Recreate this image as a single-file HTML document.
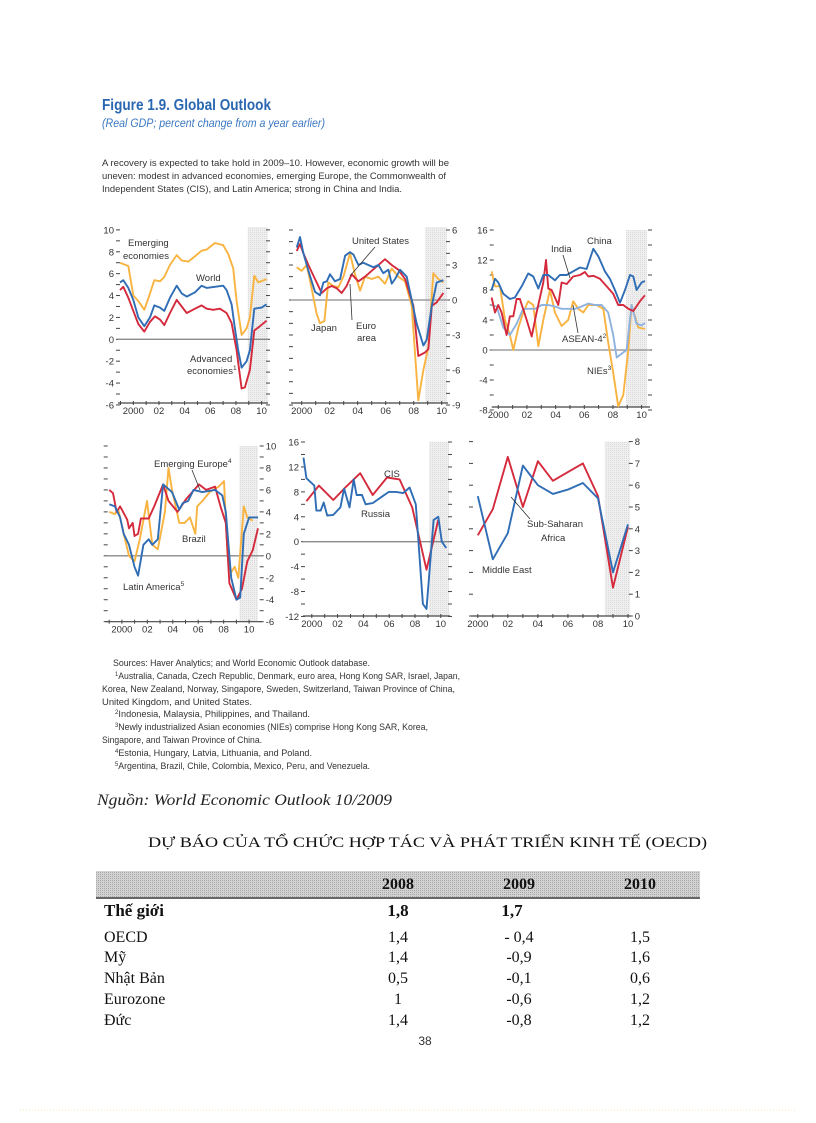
<!DOCTYPE html>
<html><head><meta charset="utf-8"><style>
html,body{margin:0;padding:0;background:#fff}
svg{display:block}
.t{font-family:"Liberation Sans",sans-serif}
.s{font-family:"Liberation Serif","Noto Serif CJK SC",serif}
</style></head><body>
<svg id="page" width="816" height="1123" viewBox="0 0 816 1123" xmlns="http://www.w3.org/2000/svg">
<defs>
<pattern id="dots" width="2" height="2" patternUnits="userSpaceOnUse"><rect width="2" height="2" fill="#efefef"/><rect width="1" height="1" fill="#dadada"/></pattern>
<pattern id="dots2" width="2" height="2" patternUnits="userSpaceOnUse"><rect width="2" height="2" fill="#d2d2d2"/><rect width="1" height="1" fill="#a8a8a8"/></pattern>
</defs>
<text class="t" x="102" y="110" font-size="16" font-weight="bold" fill="#2a67b1" textLength="169" lengthAdjust="spacingAndGlyphs">Figure 1.9.  Global Outlook</text>
<text class="t" x="102" y="127" font-size="11.5" font-style="italic" fill="#3b78c0" textLength="223" lengthAdjust="spacingAndGlyphs">(Real GDP; percent change from a year earlier)</text>
<g class="t" font-size="9.5" fill="#333">
<text x="102" y="166" textLength="347" lengthAdjust="spacingAndGlyphs">A recovery is expected to take hold in 2009–10. However, economic growth will be</text>
<text x="102" y="179" textLength="344" lengthAdjust="spacingAndGlyphs">uneven: modest in advanced economies, emerging Europe, the Commonwealth of</text>
<text x="102" y="192" textLength="300" lengthAdjust="spacingAndGlyphs">Independent States (CIS), and Latin America; strong in China and India.</text>
</g>
<g id="charts"></g>
<g class="t" font-size="9" fill="#333">
<text x="113" y="666" textLength="257" lengthAdjust="spacingAndGlyphs">Sources: Haver Analytics; and World Economic Outlook database.</text>
<text x="115" y="679" textLength="345" lengthAdjust="spacingAndGlyphs"><tspan font-size="6" dy="-3">1</tspan><tspan dy="3">Australia, Canada, Czech Republic, Denmark, euro area, Hong Kong SAR, Israel, Japan,</tspan></text>
<text x="102" y="692" textLength="353" lengthAdjust="spacingAndGlyphs">Korea, New Zealand, Norway, Singapore, Sweden, Switzerland, Taiwan Province of China,</text>
<text x="102" y="705" textLength="150" lengthAdjust="spacingAndGlyphs">United Kingdom, and United States.</text>
<text x="115" y="717" textLength="195" lengthAdjust="spacingAndGlyphs"><tspan font-size="6" dy="-3">2</tspan><tspan dy="3">Indonesia, Malaysia, Philippines, and Thailand.</tspan></text>
<text x="115" y="730" textLength="313" lengthAdjust="spacingAndGlyphs"><tspan font-size="6" dy="-3">3</tspan><tspan dy="3">Newly industrialized Asian economies (NIEs) comprise Hong Kong SAR, Korea,</tspan></text>
<text x="102" y="743" textLength="160" lengthAdjust="spacingAndGlyphs">Singapore, and Taiwan Province of China.</text>
<text x="115" y="756" textLength="197" lengthAdjust="spacingAndGlyphs"><tspan font-size="6" dy="-3">4</tspan><tspan dy="3">Estonia, Hungary, Latvia, Lithuania, and Poland.</tspan></text>
<text x="115" y="769" textLength="255" lengthAdjust="spacingAndGlyphs"><tspan font-size="6" dy="-3">5</tspan><tspan dy="3">Argentina, Brazil, Chile, Colombia, Mexico, Peru, and Venezuela.</tspan></text>
</g>
<text class="s" x="97" y="805" font-size="16" font-style="italic" fill="#222" textLength="295" lengthAdjust="spacingAndGlyphs">Nguồn: World Economic Outlook 10/2009</text>
<text class="s" x="148" y="847" font-size="15" fill="#111" textLength="559" lengthAdjust="spacingAndGlyphs">DỰ BÁO CỦA TỔ CHỨC HỢP TÁC VÀ PHÁT TRIỂN KINH TẾ (OECD)</text>
<g class="s" fill="#111">
<rect x="96" y="871" width="604" height="26" fill="url(#dots2)"/>
<line x1="96" y1="898" x2="700" y2="898" stroke="#333" stroke-width="1.5"/>
<g font-size="16" font-weight="bold" text-anchor="middle">
<text x="398" y="889">2008</text><text x="519" y="889">2009</text><text x="640" y="889">2010</text></g>
<g font-size="17" font-weight="bold">
<text x="104" y="916">Thế giới</text><text x="398" y="916" text-anchor="middle">1,8</text><text x="512" y="916" text-anchor="middle">1,7</text></g>
<g font-size="16">
<text x="104" y="942">OECD</text><text x="398" y="942" text-anchor="middle">1,4</text><text x="519" y="942" text-anchor="middle">- 0,4</text><text x="640" y="942" text-anchor="middle">1,5</text>
<text x="104" y="962">Mỹ</text><text x="398" y="962" text-anchor="middle">1,4</text><text x="519" y="962" text-anchor="middle">-0,9</text><text x="640" y="962" text-anchor="middle">1,6</text>
<text x="104" y="983">Nhật Bản</text><text x="398" y="983" text-anchor="middle">0,5</text><text x="519" y="983" text-anchor="middle">-0,1</text><text x="640" y="983" text-anchor="middle">0,6</text>
<text x="104" y="1004">Eurozone</text><text x="398" y="1004" text-anchor="middle">1</text><text x="519" y="1004" text-anchor="middle">-0,6</text><text x="640" y="1004" text-anchor="middle">1,2</text>
<text x="104" y="1025">Đức</text><text x="398" y="1025" text-anchor="middle">1,4</text><text x="519" y="1025" text-anchor="middle">-0,8</text><text x="640" y="1025" text-anchor="middle">1,2</text>
</g></g>
<text class="t" x="425" y="1045" font-size="12" text-anchor="middle" fill="#333">38</text>
<line x1="20" y1="1110" x2="796" y2="1110" stroke="#f3e6b3" stroke-dasharray="1,2"/>
</svg>
<script>
// ---- data ----
const yearTicks = [2000, 2002, 2004, 2006, 2008, 2010];
const yearTickLabels = ["2000", "02", "04", "06", "08", "10"];
// Panel 1
const worldT = [1998.96,1999.22,1999.61,2000,2000.39,2000.86,2001.30,2001.64,2002.08,2002.42,2002.86,2003.38,2003.77,2004.16,2004.81,2005.32,2005.71,2006.36,2007.01,2007.27,2007.66,2007.92,2008.18,2008.44,2008.83,2009.09,2009.43,2010,2010.39];
const worldV = [5.2,5.4,4.7,3.6,2.0,1.2,2.0,3.1,2.9,2.6,3.8,4.9,4.2,3.9,4.3,4.9,4.7,4.8,4.9,4.5,3.2,1.0,-1.0,-2.6,-2.0,-1.0,2.8,2.9,3.2];
const advT = [1998.96,1999.22,1999.61,2000,2000.39,2000.86,2001.30,2001.69,2002.08,2002.42,2002.86,2003.38,2003.77,2004.16,2004.81,2005.32,2005.71,2006.23,2006.75,2007.27,2007.66,2008.05,2008.44,2008.70,2009.09,2009.43,2009.87,2010.39];
const advV = [4.5,4.8,3.8,2.6,1.4,0.7,1.6,2.1,1.8,1.3,2.4,3.6,3.0,2.4,2.8,3.1,2.8,2.7,2.8,2.4,1.5,-1.0,-4.5,-4.4,-2.8,0.8,1.2,1.7];
const emT = [1998.96,1999.61,2000,2000.39,2000.86,2001.30,2001.64,2002.08,2002.42,2002.86,2003.38,2003.77,2004.29,2004.81,2005.32,2005.71,2006.36,2007.01,2007.40,2007.79,2008.05,2008.44,2008.83,2009.09,2009.43,2009.74,2010.39];
const emV = [7.0,6.7,4.0,3.5,2.7,4.2,5.4,5.3,5.7,6.8,7.7,7.2,7.1,7.6,8.1,8.2,8.8,8.6,7.8,6.5,3.5,0.4,1.0,2.0,5.8,5.2,5.5];
// Panel 2
const usT = [1999.64,1999.88,2000.12,2000.48,2000.95,2001.31,2001.55,2001.79,2002.02,2002.38,2002.74,2003.10,2003.45,2003.69,2004.05,2004.40,2004.76,2005.12,2005.48,2005.83,2006.19,2006.43,2006.67,2007.02,2007.50,2007.86,2008.21,2008.69,2008.93,2009.29,2009.64,2010.12];
const usV = [4.5,5.4,4.0,2.5,0.7,0.4,1.5,1.6,2.2,1.6,1.8,3.8,4.1,3.9,3.0,3.2,3.0,2.8,3.0,2.3,2.6,1.4,1.8,2.6,2.0,0.0,-2.0,-3.9,-3.4,-0.5,1.5,1.7];
const euroT = [1999.64,1999.88,2000.12,2000.48,2000.95,2001.43,2001.79,2002.14,2002.50,2002.86,2003.21,2003.57,2004.05,2004.52,2005.0,2005.48,2005.95,2006.43,2006.90,2007.38,2007.98,2008.33,2008.81,2009.05,2009.29,2009.64,2010.12];
const euroV = [4.2,4.8,4.0,3.0,1.8,0.6,1.0,1.2,1.0,0.6,1.2,2.2,1.6,2.0,2.5,3.0,3.5,3.0,2.6,1.8,-0.5,-4.8,-4.5,-4.2,-0.5,-0.2,0.6];
const japanT = [1999.64,2000,2000.36,2000.71,2001.07,2001.31,2001.62,2001.90,2002.26,2002.62,2002.98,2003.45,2003.81,2004.17,2004.52,2005.0,2005.48,2005.95,2006.43,2006.90,2007.38,2007.86,2008.33,2008.69,2009.05,2009.40,2009.76,2010.12];
const japanV = [2.8,2.5,3.0,1.0,-1.2,-2.0,-1.8,1.5,1.2,1.1,2.0,4.0,2.2,0.8,2.0,1.8,2.0,1.4,2.7,2.0,1.6,-0.5,-8.6,-6.0,-4.0,2.3,1.8,1.5];
// Panel 3
const chinaT = [1999.53,1999.77,2000,2000.35,2000.81,2001.16,2001.63,2002.09,2002.44,2002.79,2003.14,2003.49,2003.95,2004.30,2004.77,2005.23,2005.70,2006.16,2006.63,2006.98,2007.44,2007.79,2008.14,2008.49,2008.84,2009.19,2009.42,2009.65,2010,2010.23];
const chinaV = [8.0,9.5,9.0,7.5,6.8,7.0,8.5,10.2,9.8,8.2,10.0,10.0,9.3,10.0,10.0,10.5,11.0,10.8,13.5,12.5,10.5,9.5,8.0,6.3,8.0,10.0,9.8,8.0,9.0,9.2];
const indiaT = [1999.53,1999.77,2000,2000.23,2000.58,2000.81,2001.05,2001.28,2001.51,2001.98,2002.33,2002.67,2003.14,2003.33,2003.49,2003.72,2004.19,2004.42,2004.77,2005.23,2005.70,2006.05,2006.28,2006.63,2007.09,2007.56,2008.02,2008.37,2008.72,2009.07,2009.42,2009.88,2010.23];
const indiaV = [7.0,5.0,6.0,5.0,2.0,4.5,4.5,6.8,6.8,4.0,1.8,5.0,9.0,12.0,8.2,8.0,6.0,9.0,8.8,9.8,10.0,10.4,9.8,9.9,9.5,8.5,7.5,6.0,6.0,5.5,5.2,6.5,7.3];
const aseanT = [1999.53,1999.88,2000.35,2000.81,2001.28,2001.74,2002.09,2002.56,2003.02,2003.49,2003.95,2004.42,2004.88,2005.35,2005.81,2006.28,2006.74,2007.21,2007.67,2008.02,2008.26,2008.60,2008.95,2009.30,2009.65,2010,2010.23];
const aseanV = [6.0,5.8,3.0,2.0,3.5,5.5,5.5,5.5,6.0,6.0,5.8,5.5,5.5,5.5,5.8,6.2,6.0,6.0,5.0,2.0,-1.0,-0.5,0.0,6.0,3.5,3.3,3.6];
const niesT = [1999.53,1999.77,2000.12,2000.47,2000.81,2001.05,2001.40,2001.74,2002.09,2002.44,2002.79,2003.14,2003.60,2003.95,2004.42,2004.88,2005.23,2005.58,2005.93,2006.28,2006.86,2007.33,2007.67,2008.02,2008.37,2008.72,2009.07,2009.30,2009.77,2010.23];
const niesV = [10.5,8.5,8.5,4.0,2.0,0.0,3.0,5.0,6.5,6.0,0.5,4.0,8.0,5.0,3.2,4.0,6.5,5.5,5.0,6.0,6.0,5.5,1.0,-3.0,-7.5,-6.0,0.0,6.0,3.0,2.8];
// Panel 4
const eeT = [1999.01,1999.30,1999.58,1999.86,2000.42,2000.56,2000.85,2000.99,2001.27,2001.49,2002.11,2002.54,2003.24,2003.66,2004.37,2005.07,2006.06,2006.62,2007.32,2007.75,2008.17,2008.45,2009.01,2009.44,2009.86,2010.28,2010.70];
const eeV = [6.0,5.7,4.0,4.5,3.3,2.5,3.0,1.8,2.0,3.4,3.4,4.5,6.5,5.0,4.0,5.2,6.5,6.0,6.3,4.5,3.0,-2.5,-4.0,-3.0,-0.5,0.5,2.5];
const latT = [1999.01,1999.44,1999.86,2000.14,2000.56,2000.99,2001.27,2001.69,2002.11,2002.39,2002.82,2003.24,2003.94,2004.51,2004.79,2005.21,2005.63,2006.34,2007.32,2007.89,2008.17,2008.59,2009.01,2009.30,2009.58,2010,2010.70];
const latV = [4.7,4.5,3.5,2.0,1.0,-1.0,-1.8,1.0,1.5,1.0,1.5,6.5,5.8,4.2,4.8,5.0,6.0,5.8,6.0,5.5,4.0,-2.0,-4.0,-3.8,2.0,3.5,3.5];
const brazilT = [1999.01,1999.44,1999.72,2000.14,2000.56,2000.99,2001.41,2001.97,2002.39,2002.82,2003.38,2003.66,2003.94,2004.51,2004.93,2005.35,2005.77,2005.92,2006.34,2006.90,2007.61,2008.03,2008.31,2008.59,2008.87,2009.15,2009.58,2009.86,2010.28];
const brazilV = [4.0,3.8,4.2,2.0,0.0,-0.5,1.5,5.0,1.0,0.6,4.0,8.0,6.0,3.0,3.0,3.5,2.0,4.5,5.0,5.8,6.3,6.8,0.0,-1.5,-1.0,-2.0,4.5,3.5,3.2];
// Panel 5
const cisT = [1999.58,2000.55,2001.67,2002.64,2003.75,2004.72,2005.83,2006.81,2007.78,2008.89,2009.81];
const cisV = [6.5,9.0,6.7,8.8,11.0,7.5,10.3,10.0,5.5,-4.5,3.5];
const russiaT = [1999.36,1999.58,2000.19,2000.36,2000.69,2000.92,2001.19,2001.67,2002.22,2002.50,2002.92,2003.25,2003.47,2003.89,2004.17,2004.72,2005.42,2005.97,2006.53,2007.08,2007.58,2008.06,2008.61,2008.89,2009.44,2009.81,2010.08,2010.42];
const russiaV = [13.5,10.2,9.0,5.0,5.0,6.3,4.2,4.3,5.5,8.5,5.5,10.0,7.5,7.5,6.0,6.2,7.2,8.0,8.0,7.8,8.7,6.0,-10.0,-10.8,3.5,4.0,0.0,-1.0];
// Panel 6
const annualYears = [2000,2001,2002,2003,2004,2005,2006,2007,2008,2009,2010];
const meV = [5.5,2.6,3.8,6.9,6.0,5.6,5.8,6.1,5.4,2.0,4.2];
const ssaV = [3.7,4.9,7.3,5.0,7.1,6.2,6.6,7.0,5.5,1.3,4.1];

const BLUE = "#2f6db5", RED = "#d42a3c", ORANGE = "#f8b340", LBLUE = "#8fb2de";
const NS = "http://www.w3.org/2000/svg";
const root = document.getElementById("charts");

function mk(tag, attrs, parent) {
  const e = document.createElementNS(NS, tag);
  for (const k in attrs) e.setAttribute(k, attrs[k]);
  (parent || root).appendChild(e);
  return e;
}

function panel(c) {
  const g = mk("g", {});
  
  
  const X = yr => c.x0 + (yr - 2000) * c.kx;
  const Y = v => c.y0 - v * c.ky;
  const sh = mk("rect", {x: c.shade[0], y: c.top, width: c.shade[1] - c.shade[0], height: c.bottom - c.top, fill: "url(#dots)"}, g);
  
  
  const tg = mk("g", {stroke: "#444", "stroke-width": 1}, g);
  
  
  for (let v = c.ymin; v <= c.ymax + 1e-9; v += c.minor) {
    mk("line", {x1: c.left - 2, x2: c.left + 2, y1: Y(v), y2: Y(v)}, tg);
    mk("line", {x1: c.right - 2, x2: c.right + 2, y1: Y(v), y2: Y(v)}, tg);
  }
  const lg = mk("g", {class: "t", "font-size": 9.5, fill: "#333", "text-anchor": c.labSide === "left" ? "end" : "start"}, g);
  
  
  for (let v = c.ymin; v <= c.ymax + 1e-9; v += c.major) {
    const t = mk("text", {x: c.labSide === "left" ? c.left - 4 : c.right + 4, y: Y(v) + 3.5}, lg);
    t.textContent = String(v);
  }
  const ax = mk("line", {x1: c.left, x2: c.right, y1: c.bottom, y2: c.bottom, stroke: "#444", "stroke-width": 1.2}, g);
  
  
  const xg = mk("g", {class: "t", "font-size": 9.5, fill: "#333", "text-anchor": "middle"}, g);
  
  
  for (let yr = Math.ceil(c.xmin); yr <= c.xmax; yr++) {
    mk("line", {x1: X(yr), x2: X(yr), y1: c.bottom - 2, y2: c.bottom + 2, stroke: "#444"}, g);
  }
  yearTicks.forEach((yr, i) => {
    const t = mk("text", {x: X(yr), y: c.bottom + 11}, xg);
    t.textContent = yearTickLabels[i];
  });
  if (c.ymin < 0) {
    const z = mk("line", {x1: c.left, x2: c.right, y1: Y(0), y2: Y(0), stroke: "#8a8a8a", "stroke-width": 1.3}, g);
    
    
  }
  c.series.forEach(s => {
    const d = s.t.map((yr, i) => (i ? "L" : "M") + X(yr).toFixed(1) + "," + Y(s.v[i]).toFixed(1)).join("");
    const p = mk("path", {d: d, fill: "none", stroke: s.color, "stroke-width": s.w || 1.9, "stroke-linejoin": "round"}, g);
    
    
  });
  c.labels.forEach(l => {
    if (l.lead) {
      const ln = mk("line", {x1: l.lead[0], y1: l.lead[1], x2: l.lead[2], y2: l.lead[3], stroke: "#333", "stroke-width": 0.8}, g);
      
      
    }
    const t = mk("text", {x: l.x, y: l.y, class: "t", "font-size": 9.5, fill: "#333"}, g);
    t.textContent = l.text;
    if (l.sup) { const sp = mk("tspan", {"font-size": 6.5, dy: -4}, t); sp.textContent = l.sup; }
    
    
  });
}

panel({name: "panel-world", x0: 133.3, kx: 12.83, y0: 339.3, ky: 10.94, left: 118, right: 268, top: 227, bottom: 403,
  ymin: -6, ymax: 10, major: 2, minor: 1, labSide: "left", shade: [247.7, 268], xmin: 1999, xmax: 2010.5,
  series: [
    {name: "emerging-economies-line", t: emT, v: emV, color: ORANGE},
    {name: "advanced-economies-line", t: advT, v: advV, color: RED},
    {name: "world-line", t: worldT, v: worldV, color: BLUE}],
  labels: [
    {text: "Emerging", x: 128, y: 246, name: "label-emerging"},
    {text: "economies", x: 123, y: 259, name: "label-economies"},
    {text: "World", x: 196, y: 281, name: "label-world"},
    {text: "Advanced", x: 190, y: 362, name: "label-advanced"},
    {text: "economies", sup: "1", x: 187, y: 374, name: "label-advanced-economies"}]});

panel({name: "panel-major-advanced", x0: 301.7, kx: 14, y0: 300, ky: 11.67, left: 291, right: 448, top: 227, bottom: 403,
  ymin: -9, ymax: 6, major: 3, minor: 1, labSide: "right", shade: [425, 447], xmin: 1999.6, xmax: 2010.3,
  series: [
    {name: "japan-line", t: japanT, v: japanV, color: ORANGE},
    {name: "euro-area-line", t: euroT, v: euroV, color: RED},
    {name: "united-states-line", t: usT, v: usV, color: BLUE}],
  labels: [
    {text: "United States", x: 352, y: 244, name: "label-united-states", lead: [375, 247, 350, 276]},
    {text: "Japan", x: 311, y: 331, name: "label-japan"},
    {text: "Euro", x: 356, y: 329, name: "label-euro", lead: [352, 320, 350, 284]},
    {text: "area", x: 357, y: 341, name: "label-area"}]});

panel({name: "panel-asia", x0: 498.3, kx: 14.33, y0: 350, ky: 7.5, left: 491.7, right: 650, top: 230, bottom: 407,
  ymin: -8, ymax: 16, major: 4, minor: 2, labSide: "left", shade: [626, 647], xmin: 1999.6, xmax: 2010.3,
  series: [
    {name: "nies-line", t: niesT, v: niesV, color: ORANGE},
    {name: "asean-4-line", t: aseanT, v: aseanV, color: LBLUE},
    {name: "india-line", t: indiaT, v: indiaV, color: RED},
    {name: "china-line", t: chinaT, v: chinaV, color: BLUE}],
  labels: [
    {text: "India", x: 551, y: 252, name: "label-india", lead: [563, 255, 570, 278]},
    {text: "China", x: 587, y: 244, name: "label-china"},
    {text: "ASEAN-4", sup: "2", x: 562, y: 342, name: "label-asean-4", lead: [578, 333, 573, 305]},
    {text: "NIEs", sup: "3", x: 587, y: 374, name: "label-nies"}]});

panel({name: "panel-latin-america-europe", x0: 121.9, kx: 12.72, y0: 555.8, ky: 10.98, left: 105.7, right: 261.7, top: 446, bottom: 621.7,
  ymin: -6, ymax: 10, major: 2, minor: 1, labSide: "right", shade: [239.4, 258], xmin: 1999, xmax: 2010.7,
  series: [
    {name: "brazil-line", t: brazilT, v: brazilV, color: ORANGE},
    {name: "emerging-europe-line", t: eeT, v: eeV, color: RED},
    {name: "latin-america-line", t: latT, v: latV, color: BLUE}],
  labels: [
    {text: "Emerging Europe", sup: "4", x: 154, y: 467, name: "label-emerging-europe", lead: [192, 470, 200, 490]},
    {text: "Brazil", x: 182, y: 542, name: "label-brazil"},
    {text: "Latin America", sup: "5", x: 123, y: 590, name: "label-latin-america"}]});

panel({name: "panel-cis", x0: 311.8, kx: 12.9, y0: 541.7, ky: 6.23, left: 303, right: 450, top: 441.7, bottom: 616,
  ymin: -12, ymax: 16, major: 4, minor: 2, labSide: "left", shade: [429, 449], xmin: 1999.4, xmax: 2010.5,
  series: [
    {name: "cis-line", t: cisT, v: cisV, color: RED},
    {name: "russia-line", t: russiaT, v: russiaV, color: BLUE}],
  labels: [
    {text: "CIS", x: 384, y: 477, name: "label-cis"},
    {text: "Russia", x: 361, y: 517, name: "label-russia"}]});

panel({name: "panel-middle-east-africa", x0: 477.8, kx: 15.02, y0: 616, ky: 21.8, left: 471, right: 630.8, top: 441.7, bottom: 616,
  ymin: 0, ymax: 8, major: 1, minor: 1, labSide: "right", shade: [604.7, 630], xmin: 2000, xmax: 2010,
  series: [
    {name: "sub-saharan-africa-line", t: annualYears, v: ssaV, color: RED},
    {name: "middle-east-line", t: annualYears, v: meV, color: BLUE}],
  labels: [
    {text: "Sub-Saharan", x: 527, y: 527, name: "label-sub-saharan", lead: [530, 519, 511, 497]},
    {text: "Africa", x: 541, y: 541, name: "label-africa"},
    {text: "Middle East", x: 482, y: 573, name: "label-middle-east"}]});
</script>
</body></html>
